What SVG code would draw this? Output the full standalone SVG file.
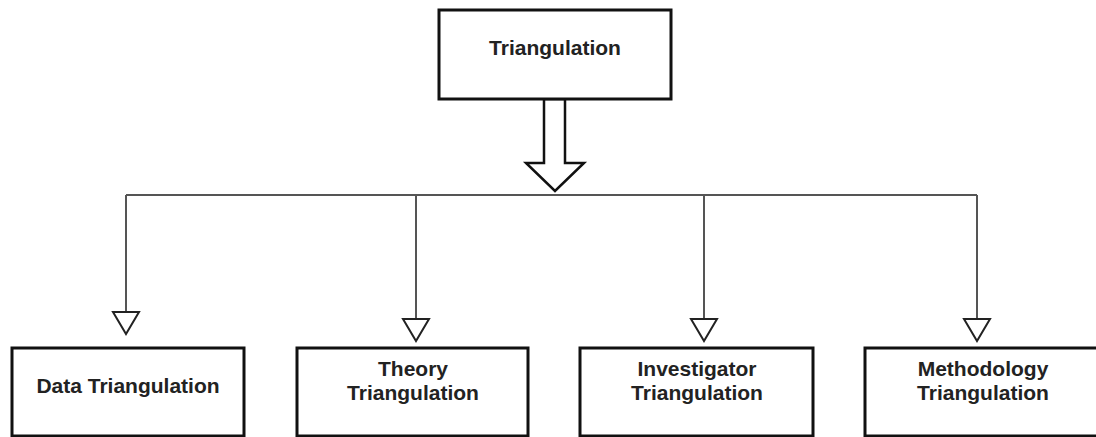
<svg xmlns="http://www.w3.org/2000/svg" width="1096" height="437" viewBox="0 0 1096 437">
  <style>
    .box { fill: #ffffff; stroke: #111111; stroke-width: 3; }
    .lbl { font-family: "Liberation Sans", Arial, sans-serif; font-size: 21px; font-weight: bold; fill: #222222; text-anchor: middle; }
    .conn { fill: none; stroke: #555555; stroke-width: 2; }
    .block { fill: #ffffff; stroke: #111111; stroke-width: 2.5; stroke-linejoin: miter; }
  </style>
  <defs>
    <marker id="openTri" markerUnits="userSpaceOnUse" markerWidth="30" markerHeight="26" refX="15" refY="1" orient="0" overflow="visible">
      <path d="M2,1 L28,1 L15,23 Z" fill="#ffffff" stroke="#222222" stroke-width="2"/>
    </marker>
  </defs>
  <rect width="1096" height="437" fill="#ffffff"/>

  <g id="connectors">
    <polygon class="block" points="544,99 544,163 526,163 555,191 584,163 565,163 565,99"/>
    <path class="conn" d="M126,195 L977,195"/>
    <path class="conn" d="M126,195 L126,312" marker-end="url(#openTri)"/>
    <path class="conn" d="M416,195 L416,319" marker-end="url(#openTri)"/>
    <path class="conn" d="M704,195 L704,319" marker-end="url(#openTri)"/>
    <path class="conn" d="M977,195 L977,319" marker-end="url(#openTri)"/>
  </g>

  <g id="node-triangulation">
    <rect class="box" x="439" y="10" width="232" height="89"/>
    <text class="lbl" x="555" y="55">Triangulation</text>
  </g>
  <g id="node-data">
    <rect class="box" x="12" y="348" width="232" height="88"/>
    <text class="lbl" x="128" y="393">Data Triangulation</text>
  </g>
  <g id="node-theory">
    <rect class="box" x="297" y="348" width="231" height="88"/>
    <text class="lbl" x="413" y="376">Theory</text>
    <text class="lbl" x="413" y="400">Triangulation</text>
  </g>
  <g id="node-investigator">
    <rect class="box" x="580" y="348" width="233" height="88"/>
    <text class="lbl" x="697" y="376">Investigator</text>
    <text class="lbl" x="697" y="400">Triangulation</text>
  </g>
  <g id="node-methodology">
    <rect class="box" x="865" y="348" width="236" height="88"/>
    <text class="lbl" x="983" y="376">Methodology</text>
    <text class="lbl" x="983" y="400">Triangulation</text>
  </g>
</svg>
